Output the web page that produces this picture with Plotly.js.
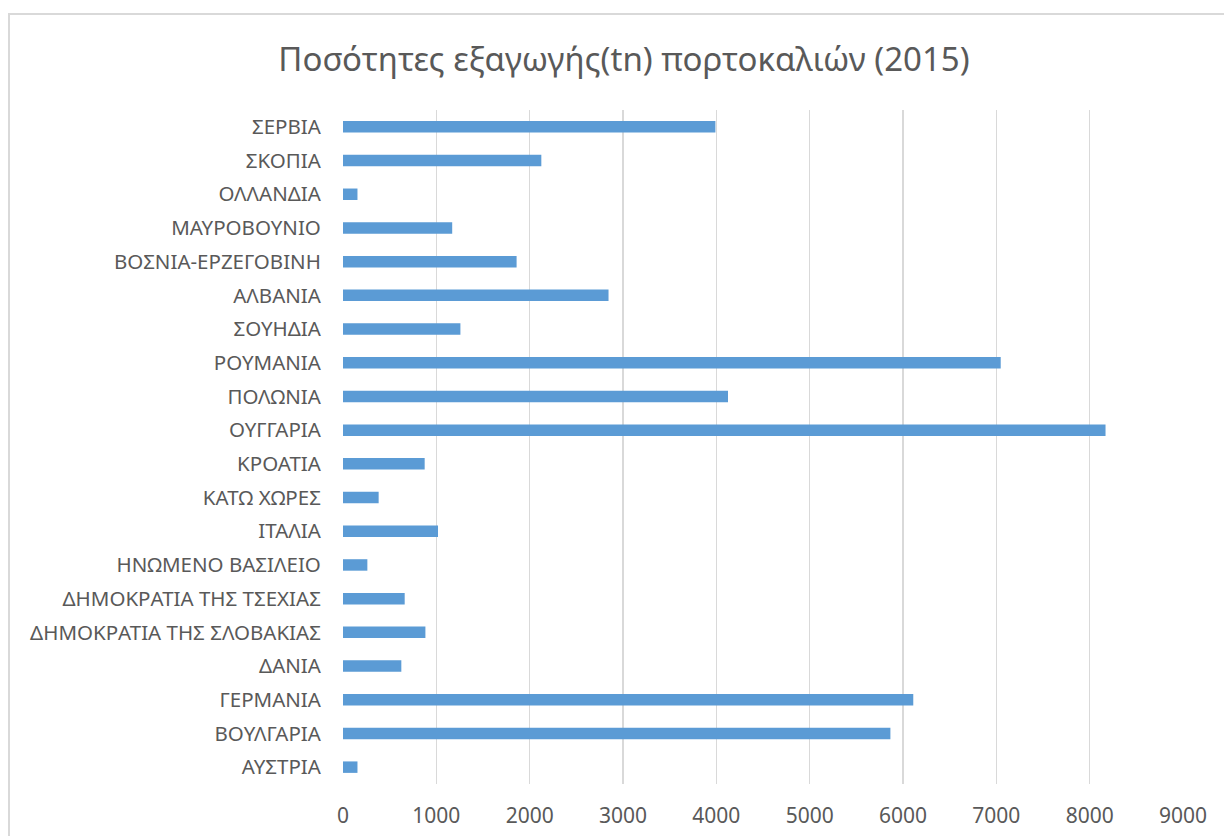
<!DOCTYPE html>
<html>
<head>
<meta charset="utf-8">
<script src="https://cdn.plot.ly/plotly-3.0.1.min.js"></script>
<style>
html,body{margin:0;padding:0;background:#fff;overflow:hidden;}
#chart{width:1224px;height:836px;}
</style>
</head>
<body>
<div id="chart"></div>
<script>
const countries = [
  "ΑΥΣΤΡΙΑ", "ΒΟΥΛΓΑΡΙΑ", "ΓΕΡΜΑΝΙΑ", "ΔΑΝΙΑ", "ΔΗΜΟΚΡΑΤΙΑ ΤΗΣ ΣΛΟΒΑΚΙΑΣ",
  "ΔΗΜΟΚΡΑΤΙΑ ΤΗΣ ΤΣΕΧΙΑΣ", "ΗΝΩΜΕΝΟ ΒΑΣΙΛΕΙΟ", "ΙΤΑΛΙΑ", "ΚΑΤΩ ΧΩΡΕΣ", "ΚΡΟΑΤΙΑ",
  "ΟΥΓΓΑΡΙΑ", "ΠΟΛΩΝΙΑ", "ΡΟΥΜΑΝΙΑ", "ΣΟΥΗΔΙΑ", "ΑΛΒΑΝΙΑ",
  "ΒΟΣΝΙΑ-ΕΡΖΕΓΟΒΙΝΗ", "ΜΑΥΡΟΒΟΥΝΙΟ", "ΟΛΛΑΝΔΙΑ", "ΣΚΟΠΙΑ", "ΣΕΡΒΙΑ"
];
const quantities = [
  155, 5865, 6110, 625, 883,
  661, 261, 1018, 382, 875,
  8170, 4125, 7047, 1258, 2845,
  1860, 1170, 155, 2125, 3990
];
const xTicks = [0, 1000, 2000, 3000, 4000, 5000, 6000, 7000, 8000, 9000];
const chartTitle = "Ποσότητες εξαγωγής(tn) πορτοκαλιών (2015)";
</script>
<script>
const W = 1224, H = 836;
const M = {l: 343, r: 41, t: 110, b: 52};
const pw = W - M.l - M.r, ph = H - M.t - M.b;
const px = v => (v - M.l) / pw;
const py = v => 1 - (v - M.t) / ph;
const FONT = "Noto Sans, Open Sans, sans-serif";

const data = [{
  type: "bar",
  orientation: "h",
  y: countries,
  x: quantities,
  marker: {color: "#5b9bd5", line: {width: 0}},
  hoverinfo: "x+y"
}];

const layout = {
  width: W, height: H,
  margin: M,
  paper_bgcolor: "#ffffff",
  plot_bgcolor: "#ffffff",
  bargap: 0.66,
  showlegend: false,
  title: {
    text: chartTitle,
    font: {family: FONT, size: 33, color: "#595959"},
    xref: "container", x: 624 / W, xanchor: "center",
    yref: "container", y: 1 - 59 / H, yanchor: "middle"
  },
  xaxis: {
    range: [0, 9000],
    tickvals: xTicks,
    ticktext: xTicks.map(String),
    showgrid: true, gridcolor: "#d9d9d9", gridwidth: 1.5,
    zeroline: false, showline: false,
    ticks: "outside", ticklen: 13, tickcolor: "rgba(0,0,0,0)",
    tickfont: {family: FONT, size: 21, color: "#595959"},
    fixedrange: true
  },
  yaxis: {
    type: "category",
    showgrid: false, zeroline: false, showline: false,
    ticks: "outside", ticklen: 17, tickcolor: "rgba(0,0,0,0)",
    tickfont: {family: FONT, size: 20.5, color: "#595959"},
    fixedrange: true
  },
  shapes: [{
    type: "rect", xref: "paper", yref: "paper",
    x0: px(9), x1: px(1300), y0: py(900), y1: py(14),
    line: {color: "#d9d9d9", width: 2}, fillcolor: "rgba(0,0,0,0)", layer: "below"
  }]
};

Plotly.newPlot("chart", data, layout, {displayModeBar: false, staticPlot: true});
</script>
</body>
</html>
